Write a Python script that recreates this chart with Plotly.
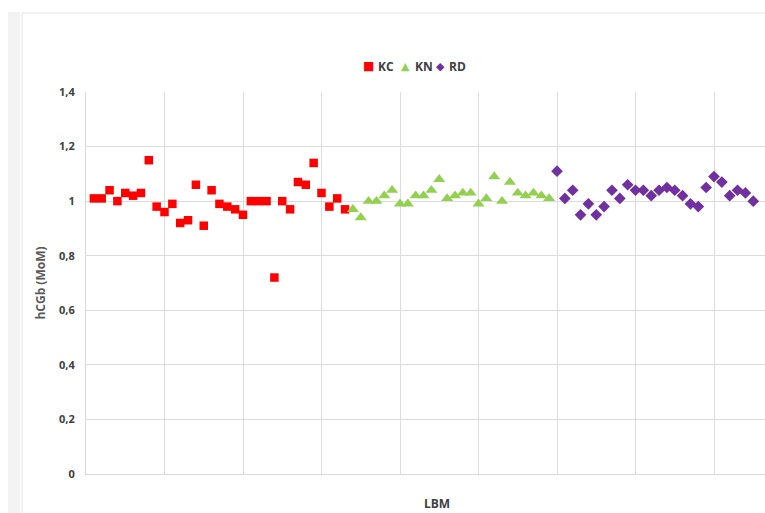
import plotly.graph_objects as go

kc_x = list(range(1, 34))
kc_y = [1.01, 1.01, 1.04, 1.00, 1.03, 1.02, 1.03, 1.15, 0.98, 0.96, 0.99, 0.92, 0.93,
        1.06, 0.91, 1.04, 0.99, 0.98, 0.97, 0.95, 1.00, 1.00, 1.00, 0.72, 1.00, 0.97,
        1.07, 1.06, 1.14, 1.03, 0.98, 1.01, 0.97]
kn_x = list(range(34, 60))
kn_y = [0.97, 0.94, 1.00, 1.00, 1.02, 1.04, 0.99, 0.99, 1.02, 1.02, 1.04, 1.08, 1.01,
        1.02, 1.03, 1.03, 0.99, 1.01, 1.09, 1.00, 1.07, 1.03, 1.02, 1.03, 1.02, 1.01]
rd_x = list(range(60, 86))
rd_y = [1.11, 1.01, 1.04, 0.95, 0.99, 0.95, 0.98, 1.04, 1.01, 1.06, 1.04, 1.04, 1.02,
        1.04, 1.05, 1.04, 1.02, 0.99, 0.98, 1.05, 1.09, 1.07, 1.02, 1.04, 1.03, 1.00]

series_names = ["KC", "KN", "RD"]
series_colors = ["#ff0000", "#92d050", "#7030a0"]
legend_glyphs = ["■", "▲", "◆"]

W, H = 765, 513
L, R, T, B = 86, 0, 92, 39
pw, ph = W - L - R, H - T - B

def px_x(p):
    return (p - L) / pw

def px_y(p):
    return (H - B - p) / ph

fig = go.Figure()
fig.add_trace(go.Scatter(x=kc_x, y=kc_y, mode="markers", name=series_names[0],
                         marker=dict(symbol="square", size=8.5, color=series_colors[0])))
fig.add_trace(go.Scatter(x=kn_x, y=kn_y, mode="markers", name=series_names[1],
                         marker=dict(symbol="triangle-up", size=10.5, color=series_colors[1])))
fig.add_trace(go.Scatter(x=rd_x, y=rd_y, mode="markers", name=series_names[2],
                         marker=dict(symbol="diamond", size=9, color=series_colors[2])))

font = "Open Sans, Liberation Sans, sans-serif"
txt_color = "#404040"

annotations = []
glyph_px = [368, 405, 440]
text_px = [376, 413, 447]
glyph_sizes = [12, 11, 11]
for g, c, gx, tx, name, gs in zip(legend_glyphs, series_colors, glyph_px, text_px,
                                  series_names, glyph_sizes):
    annotations.append(dict(text=g, x=px_x(gx), y=px_y(66), xref="paper", yref="paper",
                            xanchor="center", yanchor="middle", showarrow=False,
                            font=dict(family="DejaVu Sans", size=gs, color=c)))
    annotations.append(dict(text=name, x=px_x(tx), y=px_y(66), xref="paper", yref="paper",
                            xanchor="left", yanchor="middle", showarrow=False,
                            font=dict(family=font, size=12, color=txt_color, weight="bold")))
annotations.append(dict(text="LBM", x=px_x(437), y=px_y(504), xref="paper", yref="paper",
                        xanchor="center", yanchor="middle", showarrow=False,
                        font=dict(family=font, size=12, color=txt_color, weight="bold")))

fig.update_layout(
    width=W, height=H,
    margin=dict(l=L, r=R, t=T, b=B, pad=0),
    paper_bgcolor="white", plot_bgcolor="white",
    separators=",.",
    showlegend=False,
    xaxis=dict(range=[0, pw / 7.85], dtick=10, tick0=0, showticklabels=False,
               showgrid=True, gridcolor="#dcdcdc", gridwidth=1, zeroline=False,
               showline=True, linecolor="#d9d9d9", ticks=""),
    yaxis=dict(range=[0, 1.4], dtick=0.2, tick0=0,
               showgrid=True, gridcolor="#dcdcdc", gridwidth=1, zeroline=False,
               showline=True, linecolor="#d9d9d9", ticks="", ticklabelstandoff=8,
               tickfont=dict(family=font, size=11, color=txt_color, weight="bold"),
               title=dict(text="hCGb (MoM)", standoff=10,
                          font=dict(family=font, size=12, color="#595959", weight="bold"))),
    annotations=annotations,
    shapes=[
        dict(type="rect", xref="paper", yref="paper",
             x0=px_x(8), x1=px_x(20), y0=px_y(H + 5), y1=px_y(12),
             fillcolor="#f3f3f3", line=dict(width=0), layer="below"),
        dict(type="line", xref="paper", yref="paper",
             x0=px_x(22), x1=px_x(22), y0=px_y(H + 5), y1=px_y(13),
             line=dict(color="#e6e6e6", width=1)),
        dict(type="line", xref="paper", yref="paper",
             x0=px_x(22), x1=px_x(W + 5), y0=px_y(13), y1=px_y(13),
             line=dict(color="#e6e6e6", width=1)),
    ],
)

fig.write_html("out.html", config={"displayModeBar": False},
               post_script="document.body.style.margin='0';document.body.style.padding='0';")
